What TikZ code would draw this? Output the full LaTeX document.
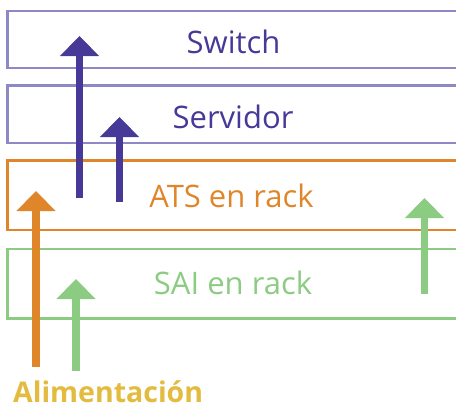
\documentclass[tikz,border=0pt]{standalone}
\usepackage{fontspec}
\setmainfont{Open Sans}
\usetikzlibrary{arrows.meta}
\definecolor{lav}{HTML}{8E88C6}
\definecolor{purp}{HTML}{473997}
\definecolor{orng}{HTML}{E0862A}
\definecolor{grn}{HTML}{8CCB82}
\definecolor{ylw}{HTML}{E3BB3E}
\tikzset{
  rackbox/.style={draw=#1, line width=2.5pt, rectangle, inner sep=0pt},
  lbl/.style={anchor=base, font=\fontsize{31}{36}\selectfont, text=#1},
  uparrow/.style={draw=#1, line width=7.5pt, -{Triangle[width=38pt,length=20pt,fill=#1]}},
}
\begin{document}
\begin{tikzpicture}[x=1pt,y=-1pt]
\useasboundingbox (0,0) rectangle (456,410);
\clip (0,0) rectangle (456,410);
% boxes
\draw[rackbox=lav] (7.7,10.8) rectangle (470,68);
\draw[rackbox=lav] (7.7,85.7) rectangle (470,143);
\draw[rackbox=orng] (7.7,160.7) rectangle (470,230);
\draw[rackbox=grn] (7.7,249) rectangle (470,318.3);
% labels
\node[lbl=purp] (sw) at (233.5,53) {Switch};
\node[lbl=purp] (srv) at (233,128) {Servidor};
\node[lbl=orng] (ats) at (231.5,207) {ATS en rack};
\node[lbl=grn] (sai) at (233,294) {SAI en rack};
\node[anchor=base west, inner sep=0pt, font=\fontsize{28.5}{34}\selectfont\bfseries, text=ylw] (ali) at (13,402) {Alimentación};
% arrow coordinates
\coordinate (p1s) at (79.5,198);
\coordinate (p1e) at (79.5,36);
\coordinate (p2s) at (119.5,202);
\coordinate (p2e) at (119.5,117);
\coordinate (o1s) at (36,367);
\coordinate (o1e) at (36,191);
\coordinate (g1s) at (76,371);
\coordinate (g1e) at (76,279);
\coordinate (g2s) at (424.5,294);
\coordinate (g2e) at (424.5,198);
\draw[uparrow=purp] (p1s) -- (p1e);
\draw[uparrow=purp] (p2s) -- (p2e);
\draw[uparrow=orng] (o1s) -- (o1e);
\draw[uparrow=grn] (g1s) -- (g1e);
\draw[uparrow=grn] (g2s) -- (g2e);
\end{tikzpicture}
\end{document}
